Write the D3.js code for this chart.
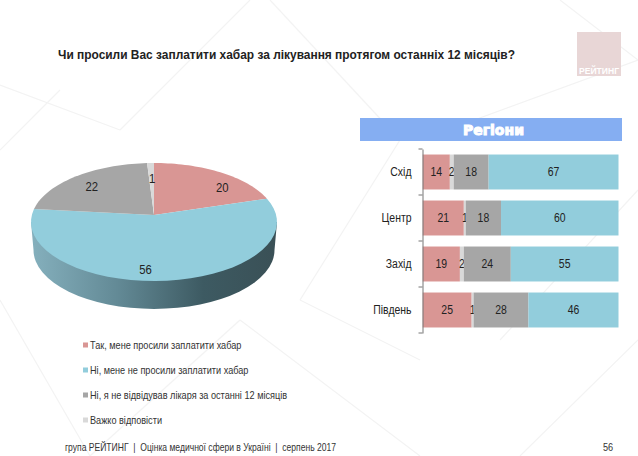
<!DOCTYPE html>
<html><head><meta charset="utf-8">
<script src="https://cdn.jsdelivr.net/npm/d3@7"></script>
<style>html,body{margin:0;padding:0;background:#fff}svg{display:block}text{font-family:"Liberation Sans",Arial,sans-serif;fill:#222;white-space:pre}</style>
</head><body><svg id="c" width="638" height="456"></svg>
<script>
const titleText = "Чи просили Вас заплатити хабар за лікування протягом останніх 12 місяців?";
const pieCategories = ["Так, мене просили заплатити хабар","Ні, мене не просили заплатити хабар","Ні, я не відвідував лікаря за останні 12 місяців","Важко відповісти"];
const pieValues = [20,56,22,1];
const colors = ["#d99694","#92cddc","#a6a6a6","#d9d9d9"];
const regions = ["Схід","Центр","Захід","Південь"];
const stackKeys = ["yes","hard","notVisited","no"];
const yesValues = [14,21,19,25];
const hardValues = [2,1,2,1];
const notVisitedValues = [18,18,24,28];
const noValues = [67,60,55,46];
const stackColors = ["#d99694","#d9d9d9","#a6a6a6","#92cddc"];
const footerText = "група РЕЙТИНГ  |  Оцінка медичної сфери в Україні  |  серпень 2017";
const pageNumber = "56";

const svg = d3.select("#c");

// faint background
const bgLines = [[0,85,120,130],[120,130,250,0],[270,0,400,140],[400,140,300,300],[0,300,90,456],[90,456,240,320],[240,320,420,456],[420,140,638,60],[500,340,638,190],[560,0,638,60],[0,150,60,90],[300,300,420,360],[520,456,638,340]];
svg.append("g").selectAll("line").data(bgLines).join("line")
  .attr("x1",d=>d[0]).attr("y1",d=>d[1]).attr("x2",d=>d[2]).attr("y2",d=>d[3])
  .attr("stroke","#f3f3f3").attr("stroke-width",1.2);

// title
svg.append("text").attr("x",58).attr("y",59).text(titleText)
  .style("font-weight","bold").style("font-size","12.6px").attr("textLength",457).attr("lengthAdjust","spacingAndGlyphs");

// logo
svg.append("rect").attr("x",577).attr("y",32).attr("width",44).attr("height",44).attr("fill","#e8d6d6");
svg.append("text").attr("x",599).attr("y",74).attr("text-anchor","middle").text("РЕЙТИНГ")
  .style("font-weight","bold").style("font-size","8.5px").style("fill","#fff").attr("textLength",40).attr("lengthAdjust","spacingAndGlyphs");

// 3D pie
const cx=154, cy=222, rx=123, ry=59, depth=28, apexY=215, lowerRx=120.5;
const warp = t => t - 0.11*Math.sin(t);
const pt = (t,f=1)=>[cx+rx*f*Math.sin(warp(t)), cy-ry*f*Math.cos(warp(t))];
const arcs = d3.pie().sort(null).value(d=>d)(pieValues);
const defs = svg.append("defs");
const grad = defs.append("linearGradient").attr("id","wall").attr("x1","0").attr("x2","1").attr("y1","0").attr("y2","0");
[[0,"#85b0bd"],[0.35,"#638a96"],[0.7,"#3d5a62"],[1,"#3a5056"]].forEach(s=>grad.append("stop").attr("offset",s[0]).attr("stop-color",s[1]));
svg.append("path")
  .attr("d",`M${cx-rx},${cy}L${cx-lowerRx},${cy+depth}A${lowerRx},${ry} 0 0 0 ${cx+lowerRx},${cy+depth}L${cx+rx},${cy}Z`)
  .attr("fill","url(#wall)");
const slicePath = d=>{
  const ts=d3.range(0,41).map(i=>d.startAngle+(d.endAngle-d.startAngle)*i/40);
  return d3.line()([[cx,apexY],...ts.map(t=>pt(t))])+"Z";
};
svg.append("g").selectAll("path").data(arcs).join("path")
  .attr("d",slicePath).attr("fill",(d,i)=>colors[i]);
// label placement: fraction along the slice's middle radius plus a small nudge
const pieLabelFrac=[1.0,0.82,0.8,0.55];
const pieLabelNudge=[[2,16],[-19,0],[0,2],[0,-11]];
svg.append("g").selectAll("text").data(arcs).join("text")
  .attr("class","narrow").attr("text-anchor","middle").style("font-size","13px")
  .attr("x",(d,i)=>pt((d.startAngle+d.endAngle)/2,pieLabelFrac[i])[0]+pieLabelNudge[i][0])
  .attr("y",(d,i)=>pt((d.startAngle+d.endAngle)/2,pieLabelFrac[i])[1]+4+pieLabelNudge[i][1])
  .text(d=>d.value);

// legend
const lg = svg.append("g").selectAll("g").data(pieCategories).join("g")
  .attr("transform",(d,i)=>`translate(83,${345+i*25})`);
lg.append("rect").attr("y",-2.5).attr("width",5).attr("height",5).attr("fill",(d,i)=>colors[i]);
lg.append("text").attr("class","narrow").attr("x",7).attr("y",3.5).style("font-size","10.5px").style("fill","#333").text(d=>d);

// banner
svg.append("rect").attr("x",360).attr("y",118).attr("width",262).attr("height",23).attr("fill","#85aef2");
svg.append("text").attr("x",493.5).attr("y",135).attr("text-anchor","middle").text("Регіони")
  .style("font-family","'DejaVu Sans',sans-serif").style("font-weight","bold").style("font-size","14px")
  .style("fill","#fff").style("stroke","#fff").style("stroke-width","1px");

// stacked bars
const table = regions.map((r,i)=>({region:r,yes:yesValues[i],hard:hardValues[i],notVisited:notVisitedValues[i],no:noValues[i]}));
const series = d3.stack().keys(stackKeys).offset(d3.stackOffsetExpand)(table);
const x = d3.scaleLinear().domain([0,1]).range([422.7,618.5]);
const y = d3.scaleBand().domain(regions).range([149,333]).paddingInner(.24).paddingOuter(.12);
const layers = svg.append("g").selectAll("g").data(series).join("g").attr("fill",(d,i)=>stackColors[i]);
layers.selectAll("rect").data(d=>d).join("rect")
  .attr("x",d=>x(d[0])).attr("y",d=>y(d.data.region))
  .attr("width",d=>x(d[1])-x(d[0])).attr("height",y.bandwidth());
layers.each(function(s){
  d3.select(this).selectAll("text").data(s).join("text")
    .attr("class","narrow")
    .attr("x",d=>(x(d[0])+x(d[1]))/2).attr("y",d=>y(d.data.region)+y.bandwidth()/2+4)
    .attr("text-anchor","middle").style("font-size","12px").text(d=>d.data[s.key]);
});
// axis
const ay = svg.append("g").attr("transform","translate(422.5,0)");
ay.call(d3.axisLeft(y).tickSize(0).tickPadding(11));
ay.select(".domain").attr("stroke","#777");
ay.selectAll("text").attr("class","narrow").style("font-size","12px").style("font-family",null);
const step=y.step();
ay.append("g").selectAll("line").data(d3.range(regions.length+1)).join("line")
  .attr("x1",-4).attr("x2",0).attr("y1",i=>149+i*step).attr("y2",i=>149+i*step).attr("stroke","#777");

// footer
svg.append("text").attr("x",65).attr("y",451).style("font-size","10.5px").style("fill","#333").text(footerText)
  .attr("textLength",271).attr("lengthAdjust","spacingAndGlyphs");
svg.append("text").attr("class","narrow").attr("x",603).attr("y",451).style("font-size","10.5px").style("fill","#333").text(pageNumber);

// condensed look: no narrow face is installed, so squeeze measured text horizontally
svg.selectAll("text.narrow").each(function(){
  this.setAttribute("textLength",this.getComputedTextLength()*0.87);
  this.setAttribute("lengthAdjust","spacingAndGlyphs");
});
</script></body></html>
